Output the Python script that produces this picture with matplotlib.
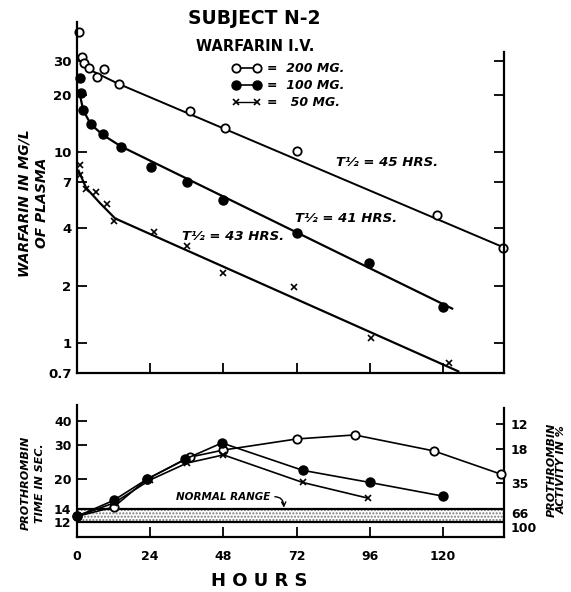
import numpy as np
import matplotlib
matplotlib.use('Agg')
from matplotlib import pyplot as plt
from matplotlib.lines import Line2D

# --- warfarin plasma levels (top panel) ---
t_200 = [0.7, 1.6, 2.3, 4, 6.5, 9, 13.6, 37, 48.5, 72, 118, 139.8]
c_200 = [42.5, 31.4, 29.2, 27.5, 24.7, 27.2, 22.7, 16.4, 13.4, 10.1, 4.68, 3.14]
t_100 = [1, 1.3, 2, 4.6, 8.5, 14.5, 24.3, 36, 48, 72, 95.7, 120]
c_100 = [24.4, 20.4, 16.6, 14.0, 12.4, 10.7, 8.34, 6.97, 5.6, 3.77, 2.62, 1.54]
t_50 = [1, 1, 3, 6.1, 9.8, 12.2, 25.3, 36, 47.7, 71, 96.4, 122]
c_50 = [8.55, 7.58, 6.4, 6.17, 5.35, 4.35, 3.81, 3.22, 2.32, 1.96, 1.07, 0.786]

# hand drawn fit lines (vertices)
fit_t_200 = [1.3, 4.3, 13.5, 140]
fit_c_200 = [32, 26.9, 22.8, 3.17]
fit_t_100 = [0.8, 2, 4.5, 8.5, 14.5, 123]
fit_c_100 = [20.5, 16.6, 14.0, 12.3, 10.7, 1.52]
fit_t_50 = [0.5, 3, 7.6, 12.5, 125]
fit_c_50 = [8.0, 6.5, 5.4, 4.5, 0.714]

# --- prothrombin time (bottom panel) ---
pt_t_200 = [0, 12, 23, 37, 48, 72, 91, 117, 139]
pt_200 = [12.8, 14.3, 20, 26, 28.3, 32.3, 33.9, 28, 21.2]
pt_t_100 = [0, 12, 23, 35.5, 47.5, 74, 96, 120]
pt_100 = [12.8, 15.5, 20, 25.4, 30.8, 22.2, 19.2, 16.3]
pt_t_50 = [0, 12, 24, 36, 48, 74, 95.5]
pt_50 = [12.8, 15, 19.8, 24.2, 26.7, 19.2, 15.9]

normal_range = (12, 14)

top_yticks = [0.7, 1, 2, 4, 7, 10, 20, 30]
top_ylabels = ['0.7', '1', '2', '4', '7', '10', '20', '30']
hour_ticks = [0, 24, 48, 72, 96, 120]
pt_yticks = [12, 14, 20, 30, 40]
activity_pos = [38.5, 28.5, 19.0, 13.4, 11.3]
activity_labels = ['12', '18', '35', '66', '100']

plt.rcParams['font.family'] = 'DejaVu Sans'
plt.rcParams['font.weight'] = 'bold'

fig = plt.figure(figsize=(5.71, 5.92), dpi=100)
ax1 = fig.add_axes([0.1349, 0.370, 0.7478, 0.593])
ax2 = fig.add_axes([0.1349, 0.0929, 0.7478, 0.2230])

ital = dict(style='italic', weight='bold')

# top panel
ax1.set_yscale('log')
ax1.set_xlim(0, 140)
ax1.set_ylim(0.7, 48)
ax1.plot(fit_t_200, fit_c_200, color='black', lw=1.4)
ax1.plot(fit_t_100, fit_c_100, color='black', lw=1.6)
ax1.plot(fit_t_50, fit_c_50, color='black', lw=1.6)
ax1.plot(t_200, c_200, 'o', ms=6, mfc='white', mec='black', mew=1.3, clip_on=False)
ax1.plot(t_100, c_100, 'o', ms=6.5, color='black', clip_on=False)
ax1.plot(t_50, c_50, 'x', ms=5, color='black', mew=1.2, clip_on=False)

ax1.set_yticks(top_yticks)
ax1.set_yticklabels(top_ylabels)
ax1.yaxis.set_minor_locator(matplotlib.ticker.NullLocator())
ax1.set_xticks(hour_ticks[1:])
ax1.set_xticklabels([])
ax1.tick_params(direction='in', length=7, width=1.3, labelsize=9.5, pad=4,
                right=True, labelright=False)
ax1.spines['top'].set_visible(False)
for s in ['left', 'right', 'bottom']:
    ax1.spines[s].set_linewidth(1.6)
ax1.spines['right'].set_bounds(0.7, 33.5)

ax1.text(101.6, 8.86, 'T½ = 45 HRS.', ha='center', va='center', fontsize=9.5, **ital)
ax1.text(88.2, 4.51, 'T½ = 41 HRS.', ha='center', va='center', fontsize=9.5, **ital)
ax1.text(51, 3.63, 'T½ = 43 HRS.', ha='center', va='center', fontsize=9.5, **ital)

handles = [
    Line2D([], [], color='black', lw=1.2, marker='o', ms=6, mfc='white', mec='black', mew=1.3),
    Line2D([], [], color='black', lw=1.2, marker='o', ms=6.5),
    Line2D([], [], color='black', lw=1.0, marker='x', ms=5, mew=1.2),
]
leg = ax1.legend(handles, ['=  200 MG.', '=  100 MG.', '=   50 MG.'], frameon=False,
                 loc='upper left', bbox_to_anchor=(0.395, 0.905),
                 bbox_transform=fig.transFigure, numpoints=2, handlelength=2.3,
                 handletextpad=0.5, labelspacing=0.3, borderpad=0,
                 prop=dict(size=9, style='italic', weight='bold'))

# bottom panel
ax2.set_yscale('log')
ax2.set_xlim(0, 140)
ax2.set_ylim(10, 48.5)
ax2.axhspan(normal_range[0], normal_range[1], facecolor='white', edgecolor='#777777',
            hatch='.....', lw=0, zorder=1)
ax2.axhline(normal_range[0], color='black', lw=1.6, zorder=2)
ax2.axhline(normal_range[1], color='black', lw=1.6, zorder=2)
ax2.plot(pt_t_200, pt_200, '-o', color='black', lw=1.2, ms=6, mfc='white', mec='black',
         mew=1.3, clip_on=False, zorder=3)
ax2.plot(pt_t_100, pt_100, '-o', color='black', lw=1.2, ms=6.5, clip_on=False, zorder=3)
ax2.plot(pt_t_50, pt_50, '-x', color='black', lw=1.2, ms=5, mew=1.2, clip_on=False, zorder=3)

ax2.set_xticks(hour_ticks)
ax2.set_xticklabels([str(h) for h in hour_ticks])
ax2.set_yticks(pt_yticks)
ax2.set_yticklabels([str(v) for v in pt_yticks])
ax2.yaxis.set_minor_locator(matplotlib.ticker.NullLocator())
ax2.tick_params(direction='in', length=7, width=1.3, labelsize=9, pad=4)
ax2.tick_params(axis='x', pad=9)
ax2.xaxis.get_major_ticks()[0].tick1line.set_visible(False)
ax2.spines['top'].set_visible(False)
for s in ['left', 'right', 'bottom']:
    ax2.spines[s].set_linewidth(1.6)
ax2.spines['right'].set_bounds(10, 47)

ax3 = ax2.twinx()
ax3.set_yscale('log')
ax3.set_ylim(10, 48.5)
ax3.set_yticks(activity_pos)
ax3.set_yticklabels(activity_labels)
ax3.yaxis.set_minor_locator(matplotlib.ticker.NullLocator())
ax3.tick_params(direction='in', length=6, width=1.3, labelsize=9, pad=5)
for tk in ax3.yaxis.get_major_ticks()[3:]:
    tk.tick2line.set_visible(False)
for s in ['top', 'left', 'bottom', 'right']:
    ax3.spines[s].set_visible(False)

ax2.annotate('NORMAL RANGE', xy=(67.8, 14.2), xytext=(63.5, 16.1), ha='right', va='center',
             fontsize=7.5, arrowprops=dict(arrowstyle='->', color='black', lw=1,
                                            relpos=(1, 0.5), shrinkA=1, shrinkB=0,
                                            connectionstyle='arc3,rad=-0.6'), **ital)

# titles and axis labels
fig.text(0.445, 0.968, 'SUBJECT N-2', ha='center', va='center', fontsize=13.5, weight='bold')
fig.text(0.447, 0.922, 'WARFARIN I.V.', ha='center', va='center', fontsize=10.5, weight='bold')
fig.text(0.058, 0.657, 'WARFARIN IN MG/L\nOF PLASMA', rotation=90, ha='center', va='center',
         fontsize=10, linespacing=1.3, **ital)
fig.text(0.058, 0.184, 'PROTHROMBIN\nTIME IN SEC.', rotation=90, ha='center', va='center',
         fontsize=8, linespacing=1.5, **ital)
fig.text(0.975, 0.206, 'PROTHROMBIN\nACTIVITY IN %', rotation=90, ha='center', va='center',
         fontsize=8, linespacing=1.1, **ital)
fig.text(0.454, 0.018, 'H O U R S', ha='center', va='center', fontsize=13, weight='bold')

fig.savefig('out.png', dpi=100)
